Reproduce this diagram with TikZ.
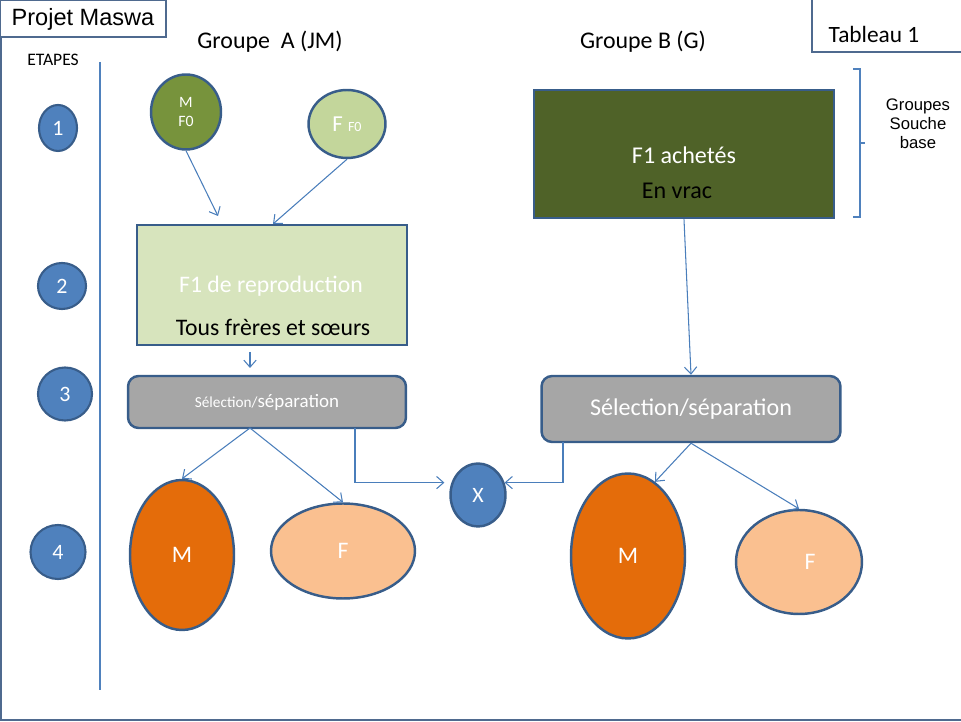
\documentclass[tikz,border=0pt]{standalone}
\usepackage{fontspec}
\setmainfont{Carlito}
\newfontfamily\arialfont{Liberation Sans}
\usetikzlibrary{arrows.meta,positioning,shapes.geometric}
\definecolor{frame}{HTML}{4F6A8F}
\definecolor{edge}{HTML}{385D8A}
\definecolor{wire}{HTML}{4A7EBB}
\definecolor{stepblue}{HTML}{4F81BD}
\definecolor{olive}{HTML}{77933C}
\definecolor{pale}{HTML}{C3D69B}
\definecolor{mint}{HTML}{D7E4BD}
\definecolor{moss}{HTML}{4F6228}
\definecolor{slate}{HTML}{A6A6A6}
\definecolor{rust}{HTML}{E46C0A}
\definecolor{peach}{HTML}{FAC090}
\newcommand{\fsz}[2]{\fontsize{#1}{#2}\selectfont}

\begin{document}
\begin{tikzpicture}[x=0.02cm,y=-0.02cm,
  stepnum/.style={ellipse,draw=edge,line width=1.2pt,fill=stepblue,text=white,inner sep=0,font=\fsz{12.5}{15}},
  blob/.style={ellipse,draw=edge,line width=1.4pt,inner sep=0,text=white,font=\fsz{13.5}{16}},
  card/.style={rectangle,draw=edge,line width=1.6pt,inner sep=0},
  sel/.style={rectangle,rounded corners=6pt,draw=edge,line width=1.4pt,fill=slate,text=white,inner sep=0},
  flow/.style={draw=wire,line width=0.6pt,-{Straight Barb[length=4pt,width=7pt]}},
  head/.style={font=\fsz{13.6}{16},inner sep=0}]
\useasboundingbox (0,0) rectangle (961,722);
% page frame and corner boxes
\draw[frame,line width=0.8pt] (1,37) -- (1,720);
\draw[frame,line width=1.5pt] (0,720) -- (961,720);
\draw[frame,line width=0.6pt] (0,0) rectangle (166,37);
\node[font=\arialfont\fsz{13.4}{16},inner sep=0] (titre) at (83,19) {Projet Maswa};
\draw[frame,line width=0.6pt] (812,0) -- (812,52) -- (961,52);
\node[font=\fsz{13.3}{16},inner sep=0] (tab) at (874,34) {Tableau 1};
\node[font=\fsz{10}{12},inner sep=0] (etapes) at (53,60) {ETAPES};
\draw[stepblue,line width=0.6pt] (100,62) -- (100,690);
% steps
\node[stepnum,minimum width=0.76cm,minimum height=0.92cm] (e1) at (58,128) {1};
\node[stepnum,minimum width=0.96cm,minimum height=0.92cm] (e2) at (62,286) {2};
\node[stepnum,minimum width=1.08cm,minimum height=1.06cm] (e3) at (65,394) {3};
\node[stepnum,minimum width=1.10cm,minimum height=1.08cm] (e4) at (58,552) {4};
% headers
\node[head] (ga) at (270,42) {Groupe\ \ A (JM)};
\node[head] (gb) at (643,42) {Groupe B (G)};
% group A
\node[blob,fill=olive,minimum width=1.4cm,minimum height=1.5cm,align=center,font=\fsz{9}{11.3}] (mf0) at (186,112) {M\\F0};
\node[blob,fill=pale,minimum width=1.54cm,minimum height=1.36cm] (ff0) at (347,124) {\fsz{13}{15}F {\fsz{8}{10}F0}};
\node[card,fill=mint,minimum width=5.4cm,minimum height=2.4cm] (repro) at (272,285) {};
\node[text=white,font=\fsz{13.5}{16},inner sep=0] (reproA) at (271,286) {F1 de reproduction};
\node[font=\fsz{13.5}{16},inner sep=0] (reproB) at (273,327) {Tous frères et sœurs};
\node[sel,minimum width=5.56cm,minimum height=1.04cm] (selA) at (267,402) {{\fsz{8.7}{10}Sélection/}{\fsz{10.8}{13}séparation}};
\node[blob,fill=rust,minimum width=2.08cm,minimum height=3.0cm] (mA) at (182,555) {M};
\node[blob,fill=peach,minimum width=2.88cm,minimum height=1.9cm] (fA) at (343,551) {F};
\node[blob,fill=stepblue,minimum width=1.1cm,minimum height=1.26cm,font=\fsz{12.5}{15}] (X) at (478,495) {X};
% group B
\node[card,fill=moss,minimum width=6.0cm,minimum height=2.56cm] (buy) at (684,154) {};
\node[text=white,font=\fsz{13.7}{16},inner sep=0] (buyA) at (684,155) {F1 achetés};
\node[font=\fsz{13.7}{16},inner sep=0] (buyB) at (677,191) {En vrac};
\node[sel,minimum width=5.98cm,minimum height=1.32cm,font=\fsz{13.7}{16}] (selB) at (691,409) {Sélection/séparation};
\node[blob,fill=rust,minimum width=2.28cm,minimum height=3.3cm] (mB) at (628,556) {M};
\node[blob,fill=peach,minimum width=2.52cm,minimum height=2.08cm] (fB) at (799,562) {\hspace*{0.44cm}F};
% brace and side note
\draw[stepblue,line width=0.6pt] (853,69) -- (860,69) -- (860,217) -- (853,217) (860,143) -- (865,143);
\node[font=\arialfont\fsz{9.5}{10.8},align=center,inner sep=0] (souche) at (918,124) {Groupes\\Souche\\base};
% connectors
\coordinate (inA1) at (218,216);
\coordinate (inA2) at (273,224);
\coordinate (gapT) at (250,352);
\coordinate (gapB) at (250,368);
\coordinate (splitA) at (250,428);
\coordinate (dropA) at (355,428);
\coordinate (dropB) at (563,442);
\draw[flow] (mf0.south) -- (inA1);
\draw[flow] (ff0.south) -- (inA2);
\draw[flow] (gapT) -- (gapB);
\draw[flow] (splitA) -- (mA.north);
\draw[flow] (splitA) -- (fA.north);
\draw[flow,shorten >=4pt] (dropA) |- (X.155);
\draw[flow] (dropB) |- (X.25);
\draw[flow] (buy.south) -- (selB.north);
\draw[flow] (selB.south) -- (mB.70);
\draw[flow] (selB.south) -- (fB.north);
\end{tikzpicture}
\end{document}
